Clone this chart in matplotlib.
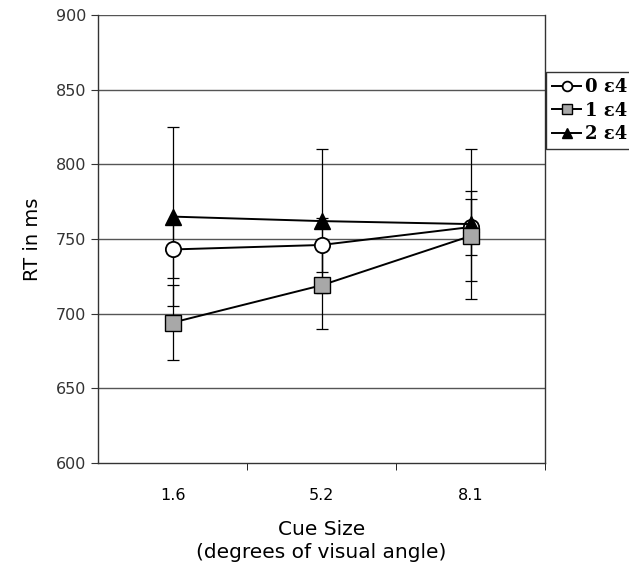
import numpy as np
import matplotlib
matplotlib.use("Agg")
import matplotlib.pyplot as plt

# cue sizes (degrees of visual angle)
cue_sizes = ["1.6", "5.2", "8.1"]

# mean RT (ms) and error per group
rt_0e4 = [743, 746, 758]
err_0e4 = [19, 18, 19]
rt_1e4 = [694, 719, 752]
err_1e4 = [25, 29, 30]
rt_2e4 = [765, 762, 760]
err_2e4 = [60, 48, 50]

labels = ["0 \u03b54", "1 \u03b54", "2 \u03b54"]

fig = plt.figure(figsize=(6.29, 5.78), dpi=100)
ax = fig.add_axes([0.1558, 0.199, 0.7107, 0.775])

x = np.arange(len(cue_sizes))

# horizontal grid lines
for yv in range(650, 901, 50):
    ax.axhline(yv, color="#555555", lw=1.0, zorder=0)

# error bars first, behind markers
for vals, errs in [(rt_0e4, err_0e4), (rt_1e4, err_1e4), (rt_2e4, err_2e4)]:
    ax.errorbar(x, vals, yerr=errs, fmt="none", ecolor="black",
                elinewidth=0.9, capsize=4, capthick=0.9, zorder=2)

h0, = ax.plot(x, rt_0e4, "-o", color="black", lw=1.4, ms=11,
              mfc="white", mec="black", mew=1.3, zorder=3)
h2, = ax.plot(x, rt_2e4, "-^", color="black", lw=1.4, ms=11,
              mfc="black", mec="black", zorder=4)
h1, = ax.plot(x, rt_1e4, "-s", color="black", lw=1.4, ms=11,
              mfc="#a8a8a8", mec="black", mew=1.0, zorder=5)

ax.set_xlim(-0.5, 2.5)
ax.set_ylim(600, 900)
ax.set_yticks(np.arange(600, 901, 50))
ax.set_xticks(x)
ax.set_xticklabels(cue_sizes, fontsize=11.5)
ax.set_xticks([0.5, 1.5, 2.5], minor=True)
ax.tick_params(axis="x", which="major", length=0, pad=18)
ax.tick_params(axis="x", which="minor", length=5, direction="out")
ax.tick_params(axis="y", length=5, direction="out", labelsize=11.5,
               colors="#333333")
for lab in ax.get_xticklabels():
    lab.set_color("black")

ax.spines["top"].set_visible(False)
for s in ["left", "right", "bottom"]:
    ax.spines[s].set_color("#333333")
    ax.spines[s].set_linewidth(1.0)

ax.set_ylabel("RT in ms", fontsize=14, labelpad=10)
ax.set_xlabel("Cue Size\n(degrees of visual angle)", fontsize=14.5,
              labelpad=12, linespacing=1.3)

leg = fig.legend([h0, h1, h2], labels, loc="upper left",
                 bbox_to_anchor=(0.868, 0.8755), borderaxespad=0,
                 frameon=True, fancybox=False,
                 edgecolor="black", handlelength=1.6, handletextpad=0.2,
                 borderpad=0.35, labelspacing=0.3,
                 prop={"family": "DejaVu Serif", "size": 13, "weight": "bold"})
leg.get_frame().set_linewidth(1.0)
for lh in leg.legend_handles:
    lh.set_markersize(7)

fig.savefig("out.png", dpi=100)
